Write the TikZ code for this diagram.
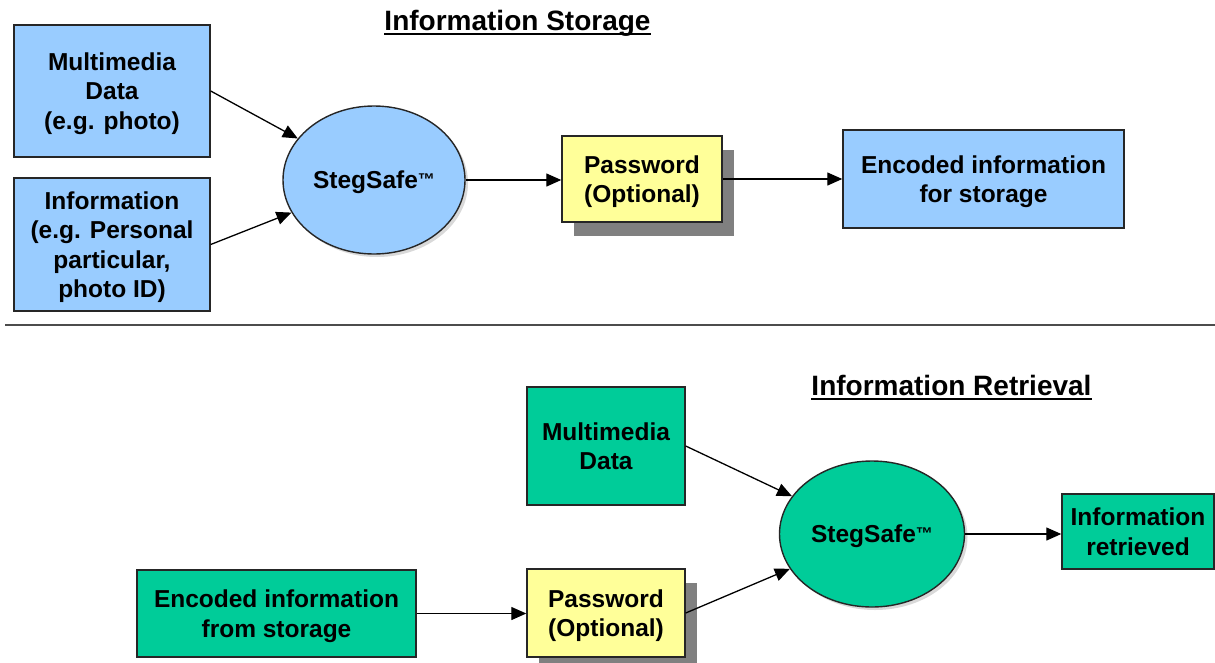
\documentclass[tikz,border=0pt]{standalone}
\usepackage{fontspec}
\setmainfont{Liberation Sans}
\usetikzlibrary{shapes.geometric,shadows,arrows.meta}

\begin{document}
\begin{tikzpicture}[x=1pt, y=-1pt,
  box/.style={draw=black!85, line width=1.4pt, rectangle, inner sep=0pt, align=center, text depth=0pt,
    font=\fontsize{24.5}{29.5}\selectfont\bfseries},
  blob/.style={box, ellipse, drop shadow={shadow xshift=3pt, shadow yshift=-3pt, opacity=0.3}},
  keybox/.style={box, fill=\stegYellow, drop shadow={shadow xshift=12pt, shadow yshift=-14pt, opacity=1, fill=black!50}},
  flow/.style={-{Triangle[length=15pt,width=13pt]}, line width=1.3pt},
  heading/.style={inner sep=0pt, font=\fontsize{28}{32}\selectfont\bfseries}]
% StegSafe flow, storage on top and retrieval below
\providecommand{\stegBlue}{rgb,255:red,153;green,204;blue,255}
\providecommand{\stegYellow}{rgb,255:red,255;green,255;blue,153}
\providecommand{\stegGreen}{rgb,255:red,0;green,204;blue,153}
\providecommand{\stegRuleColor}{black!70}
\providecommand{\stegName}{StegSafe\raisebox{3pt}{\fontsize{17}{17}\selectfont ™}}
\useasboundingbox (0,0) rectangle (1215,662);
% Storage
\node[heading, anchor=base] (ttlstore) at (517.5,30) {Information Storage};
\draw[line width=2pt] ([yshift=-4pt]ttlstore.base west) -- ([yshift=-4pt]ttlstore.base east);
\node[box, fill=\stegBlue, minimum width=196pt, minimum height=132pt] (mmd) at (112,91) {Multimedia\\Data\\(e.g. photo)};
\node[box, fill=\stegBlue, minimum width=196pt, minimum height=133pt] (info) at (112,244.5) {Information\\(e.g. Personal\\particular,\\photo ID)};
\node[blob, fill=\stegBlue, minimum width=182pt, minimum height=148pt] (steg) at (374,180) {\stegName};
\node[keybox, minimum width=160pt, minimum height=86pt] (pwd) at (642,179) {Password\\(Optional)};
\node[box, fill=\stegBlue, minimum width=281pt, minimum height=98pt] (enc) at (983.5,179) {Encoded information\\for storage};
\draw[flow] (mmd.east) -- (steg);
\draw[flow] (info.east) -- (steg);
\draw[flow] (steg.east) -- (steg.east -| pwd.west);
\draw[flow] (pwd.east) -- (pwd.east -| enc.west);
% Divider
\draw[draw=\stegRuleColor, line width=2pt] (5,325) -- (1215,325);
% Retrieval
\node[heading, anchor=base] (ttlret) at (951.5,395) {Information Retrieval};
\draw[line width=2pt] ([yshift=-4pt]ttlret.base west) -- ([yshift=-4pt]ttlret.base east);
\node[box, fill=\stegGreen, minimum width=158pt, minimum height=118pt] (mmdb) at (606,446) {Multimedia\\Data};
\node[keybox, minimum width=158pt, minimum height=88pt] (pwdb) at (606,613) {Password\\(Optional)};
\node[box, fill=\stegGreen, minimum width=279pt, minimum height=87pt] (encb) at (276.5,613.5) {Encoded information\\from storage};
\node[blob, fill=\stegGreen, minimum width=185pt, minimum height=146pt] (stegb) at (872,534) {\stegName};
\node[box, fill=\stegGreen, minimum width=152pt, minimum height=75pt] (ret) at (1138,531.5) {Information\\retrieved};
\draw[flow] (encb.east) -- (encb.east -| pwdb.west);
\draw[flow] (mmdb.east) -- (stegb);
\draw[flow] (pwdb.east) -- (stegb);
\draw[flow] (stegb.east) -- (stegb.east -| ret.west);
\end{tikzpicture}
\end{document}
